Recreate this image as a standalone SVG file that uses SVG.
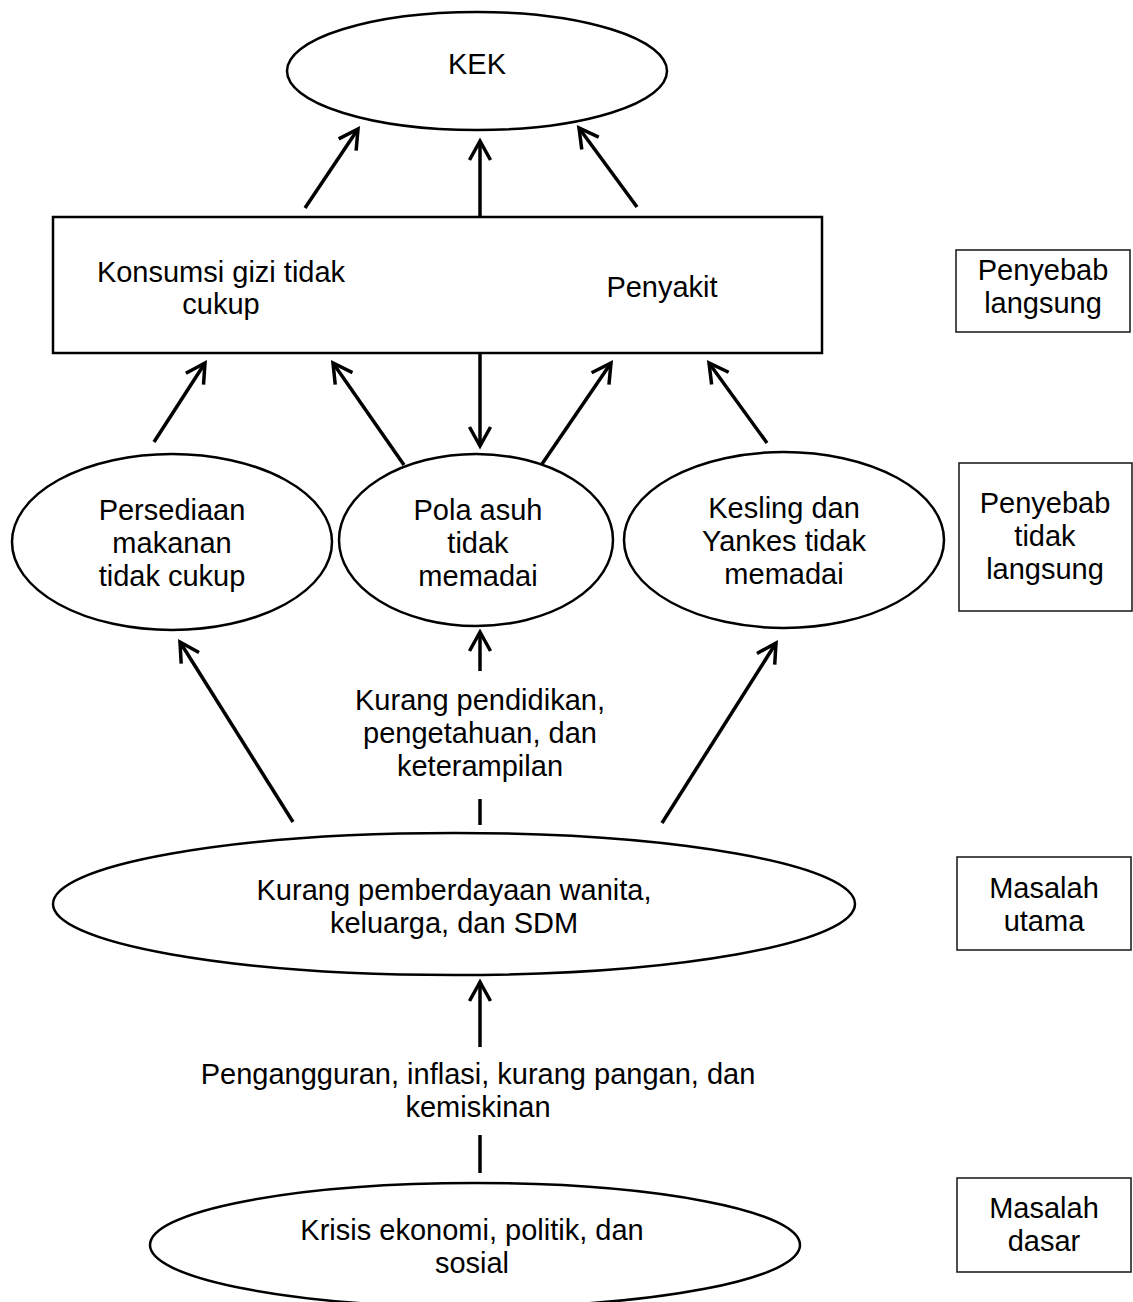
<svg xmlns="http://www.w3.org/2000/svg" width="1133" height="1302" viewBox="0 0 1133 1302">
<style>
text{font-family:"Liberation Sans",Arial,sans-serif;font-size:29px;fill:#000;text-anchor:middle}
.sh{fill:#fff;stroke:#000;stroke-width:2.5}
.lb{fill:#fff;stroke:#222;stroke-width:1.6}
.cn{stroke:#000;stroke-width:3.5;fill:none}
.ar{marker-end:url(#ah)}
</style>
<defs>
<marker id="ah" viewBox="-24 -13 28 26" markerWidth="28" markerHeight="26" refX="0" refY="0" orient="auto-start-reverse" markerUnits="userSpaceOnUse">
<path d="M-19,-10.5 L0,0 L-19,10.5" fill="none" stroke="#000" stroke-width="3.5" stroke-linejoin="miter"/>
</marker>
</defs>
<g id="connectors">
<line class="cn ar" x1="305" y1="208" x2="358" y2="129"/>
<line class="cn ar" x1="637" y1="207" x2="579" y2="128"/>
<line class="cn" x1="480" y1="446" x2="480" y2="141" marker-start="url(#ah)" marker-end="url(#ah)"/>
<line class="cn ar" x1="154" y1="442" x2="205" y2="363"/>
<line class="cn ar" x1="404" y1="465" x2="333" y2="363"/>
<line class="cn ar" x1="542" y1="464" x2="611" y2="363"/>
<line class="cn ar" x1="767" y1="443" x2="709" y2="363"/>
<line class="cn ar" x1="480" y1="671" x2="480" y2="632"/>
<line class="cn" x1="480" y1="799" x2="480" y2="825"/>
<line class="cn ar" x1="293" y1="822" x2="180" y2="642"/>
<line class="cn ar" x1="662" y1="823" x2="776" y2="643"/>
<line class="cn ar" x1="480" y1="1047" x2="480" y2="982"/>
<line class="cn" x1="480" y1="1135" x2="480" y2="1173"/>
</g>
<g id="kek">
<ellipse class="sh" cx="477" cy="71" rx="190" ry="59"/>
<text x="477" y="74">KEK</text>
</g>
<g id="langsung">
<rect class="sh" x="53" y="217" width="769" height="136"/>
<text x="221" y="282">Konsumsi gizi tidak</text>
<text x="221" y="314">cukup</text>
<text x="662" y="297">Penyakit</text>
</g>
<g id="persediaan">
<ellipse class="sh" cx="172" cy="542" rx="160" ry="88"/>
<text x="172" y="520">Persediaan</text>
<text x="172" y="553">makanan</text>
<text x="172" y="586">tidak cukup</text>
</g>
<g id="polaasuh">
<ellipse class="sh" cx="476" cy="540" rx="137" ry="86"/>
<text x="478" y="520">Pola asuh</text>
<text x="478" y="553">tidak</text>
<text x="478" y="586">memadai</text>
</g>
<g id="kesling">
<ellipse class="sh" cx="784" cy="540" rx="160" ry="88"/>
<text x="784" y="518">Kesling dan</text>
<text x="784" y="551">Yankes tidak</text>
<text x="784" y="584">memadai</text>
</g>
<g id="pendidikan">
<text x="480" y="710">Kurang pendidikan,</text>
<text x="480" y="743">pengetahuan, dan</text>
<text x="480" y="776">keterampilan</text>
</g>
<g id="pemberdayaan">
<ellipse class="sh" cx="454" cy="904" rx="401" ry="71"/>
<text x="454" y="900">Kurang pemberdayaan wanita,</text>
<text x="454" y="933">keluarga, dan SDM</text>
</g>
<g id="pengangguran">
<text x="478" y="1084">Pengangguran, inflasi, kurang pangan, dan</text>
<text x="478" y="1117">kemiskinan</text>
</g>
<g id="krisis">
<ellipse class="sh" cx="475" cy="1245" rx="325" ry="62"/>
<text x="472" y="1240">Krisis ekonomi, politik, dan</text>
<text x="472" y="1273">sosial</text>
</g>
<g id="lbl-langsung">
<rect class="lb" x="956" y="250" width="174" height="82"/>
<text x="1043" y="280">Penyebab</text>
<text x="1043" y="313">langsung</text>
</g>
<g id="lbl-tidaklangsung">
<rect class="lb" x="959" y="463" width="173" height="148"/>
<text x="1045" y="513">Penyebab</text>
<text x="1045" y="546">tidak</text>
<text x="1045" y="579">langsung</text>
</g>
<g id="lbl-utama">
<rect class="lb" x="957" y="857" width="174" height="93"/>
<text x="1044" y="898">Masalah</text>
<text x="1044" y="931">utama</text>
</g>
<g id="lbl-dasar">
<rect class="lb" x="957" y="1178" width="174" height="94"/>
<text x="1044" y="1218">Masalah</text>
<text x="1044" y="1251">dasar</text>
</g>
</svg>
